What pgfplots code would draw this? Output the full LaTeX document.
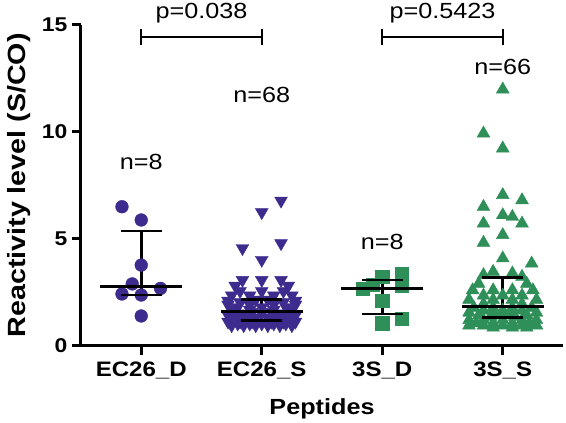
\documentclass[border=0pt]{standalone}
\usepackage{fontspec}
\setmainfont{Liberation Sans}[FakeStretch=1.15]
\usepackage{pgfplots}
\pgfplotsset{compat=1.18}
\definecolor{ecpurple}{HTML}{3D2B8E}
\definecolor{sgreen}{HTML}{2E8F58}

\pgfplotstableread{
x y
-0.16 6.50
0 5.88
0 3.77
-0.075 2.89
0.16 2.68
-0.16 2.42
0 2.37
0 1.39
}\ecd

\pgfplotstableread{
x y
0.75 0.95
0.85 0.95
0.95 0.95
1.05 0.95
1.15 0.95
1.25 0.95
0.80 1.03
0.90 1.03
1.00 1.03
1.10 1.03
1.20 1.03
0.72 1.12
0.82 1.12
0.92 1.12
1.08 1.12
1.18 1.12
1.28 1.12
0.75 1.22
0.88 1.22
1.12 1.22
1.25 1.22
0.80 1.32
0.95 1.32
1.05 1.32
1.20 1.32
0.72 1.42
0.88 1.42
1.12 1.42
1.28 1.42
0.80 1.50
1.00 1.50
1.20 1.50
0.92 1.57
1.08 1.57
0.75 1.68
0.90 1.68
1.10 1.68
1.25 1.68
0.80 1.80
1.00 1.80
1.20 1.80
0.72 1.92
0.90 1.92
1.10 1.92
1.28 1.92
0.82 2.03
1.18 2.03
0.72 2.10
1.28 2.10
0.95 2.15
1.05 2.15
0.75 2.35
0.90 2.35
1.10 2.35
1.25 2.35
0.82 2.55
1.00 2.55
1.18 2.55
0.78 2.80
1.22 2.80
0.84 3.07
1.00 3.07
1.16 3.07
1.16 6.78
1.00 6.24
0.84 4.56
1.16 4.79
1.00 4.01
}\ecs

\pgfplotstableread{
x y
2.16 3.35
2.16 2.81
2.00 3.23
1.84 2.65
1.92 2.84
2.00 2.09
2.00 1.05
2.16 1.28
}\sd

\pgfplotstableread{
x y
3.00 11.99
2.84 9.93
3.00 9.23
3.00 7.05
3.16 6.81
2.84 6.50
2.84 5.72
3.00 6.11
3.08 6.03
3.16 5.72
3.00 5.18
2.84 4.82
3.00 4.09
3.24 3.85
2.84 3.31
2.92 3.46
3.08 3.39
3.16 3.23
2.80 2.90
3.20 2.90
2.75 2.60
2.92 2.60
3.08 2.60
3.25 2.60
2.84 2.35
3.00 2.35
3.16 2.35
2.72 2.15
2.92 2.15
3.08 2.15
3.28 2.15
2.84 1.95
3.16 1.95
2.76 1.78
2.92 1.78
3.08 1.78
3.24 1.78
2.84 1.65
3.00 1.65
3.16 1.65
2.72 1.55
2.92 1.55
3.08 1.55
3.28 1.55
2.80 1.42
3.00 1.42
3.20 1.42
2.90 1.36
3.10 1.36
2.72 1.20
2.84 1.20
3.00 1.20
3.16 1.20
3.28 1.20
2.78 1.05
2.92 1.05
3.08 1.05
3.22 1.05
2.72 0.95
2.84 0.95
3.00 0.95
3.16 0.95
3.28 0.95
2.92 0.85
3.08 0.85
3.20 0.85
}\ss

% median, upper quartile, lower quartile
\pgfplotstableread{
x med hi lo
0 2.76 5.36 2.37
1 1.59 2.17 1.17
2 2.68 3.07 1.48
3 1.82 3.20 1.31
}\stats

\begin{document}
\begin{tikzpicture}
\useasboundingbox (-81bp,-77.3bp) rectangle (485bp,345.7bp);
\begin{axis}[
  at={(0,0)}, anchor=south west,
  width=482bp, height=320.7bp, scale only axis,
  xmin=-0.5, xmax=3.5, ymin=0, ymax=15,
  clip=false,
  axis x line*=bottom, axis y line*=left,
  axis line style={line width=3bp, black, -},
  xtick={0,1,2,3},
  xticklabels={EC26\_D, EC26\_S, 3S\_D, 3S\_S},
  ytick={0,5,10,15},
  tick align=outside,
  major tick length=9bp,
  tick style={line width=3bp, black},
  /pgf/number format/assume math mode=true,
  yticklabel style={font=\bfseries\fontsize{20}{20}\selectfont, xshift=-1bp},
  xticklabel style={font=\bfseries\fontsize{21}{21}\selectfont, yshift=-4bp},
  xlabel={Peptides},
  ylabel={Reactivity level (S/CO)},
  xlabel style={font=\bfseries\fontsize{22}{22}\selectfont, yshift=-12bp},
  ylabel style={font=\bfseries\fontsize{25}{25}\selectfont, yshift=4bp},
]
\addplot[only marks, mark=*, mark size=6.4bp, color=ecpurple] table[x=x,y=y] {\ecd};
\addplot[only marks, mark=triangle*, mark size=7.4bp, color=ecpurple, mark options={rotate=180}] table[x=x,y=y] {\ecs};
\addplot[only marks, mark=square*, mark size=6.6bp, color=sgreen] table[x=x,y=y] {\sd};
\addplot[only marks, mark=triangle*, mark size=7.4bp, color=sgreen] table[x=x,y=y] {\ss};

% whiskers (IQR)
\addplot[black, line width=2.6bp, forget plot, mark=none] coordinates {(0,5.36) (0,2.37)};
\addplot[black, line width=2.6bp, forget plot, mark=none] coordinates {(1,2.17) (1,1.17)};
\addplot[black, line width=2.6bp, forget plot, mark=none] coordinates {(2,3.07) (2,1.48)};
\addplot[black, line width=2.6bp, forget plot, mark=none] coordinates {(3,3.20) (3,1.31)};
% caps
\addplot[black, only marks, mark=-, mark size=20.5bp, mark options={line width=2.6bp, black}] table[x=x,y=hi] {\stats};
\addplot[black, only marks, mark=-, mark size=20.5bp, mark options={line width=2.6bp, black}] table[x=x,y=lo] {\stats};
% medians
\addplot[black, only marks, mark=-, mark size=41bp, mark options={line width=2.8bp, black}] table[x=x,y=med] {\stats};

\draw[line width=1.8bp] (axis cs:0,14.45) -- (axis cs:1,14.45);
\draw[line width=1.8bp] (axis cs:0,14.08) -- (axis cs:0,14.82);
\draw[line width=1.8bp] (axis cs:1,14.08) -- (axis cs:1,14.82);
\draw[line width=1.8bp] (axis cs:2,14.45) -- (axis cs:3,14.45);
\draw[line width=1.8bp] (axis cs:2,14.08) -- (axis cs:2,14.82);
\draw[line width=1.8bp] (axis cs:3,14.08) -- (axis cs:3,14.82);

\node[font=\fontsize{22}{22}\selectfont] at (axis cs:0.5,15.55) {p=0.038};
\node[font=\fontsize{22}{22}\selectfont] at (axis cs:2.5,15.55) {p=0.5423};
\node[font=\fontsize{22}{22}\selectfont] at (axis cs:0,8.61) {n=8};
\node[font=\fontsize{22}{22}\selectfont] at (axis cs:1,11.73) {n=68};
\node[font=\fontsize{22}{22}\selectfont] at (axis cs:2,4.86) {n=8};
\node[font=\fontsize{22}{22}\selectfont] at (axis cs:3,13.05) {n=66};
\end{axis}
\end{tikzpicture}
\end{document}
